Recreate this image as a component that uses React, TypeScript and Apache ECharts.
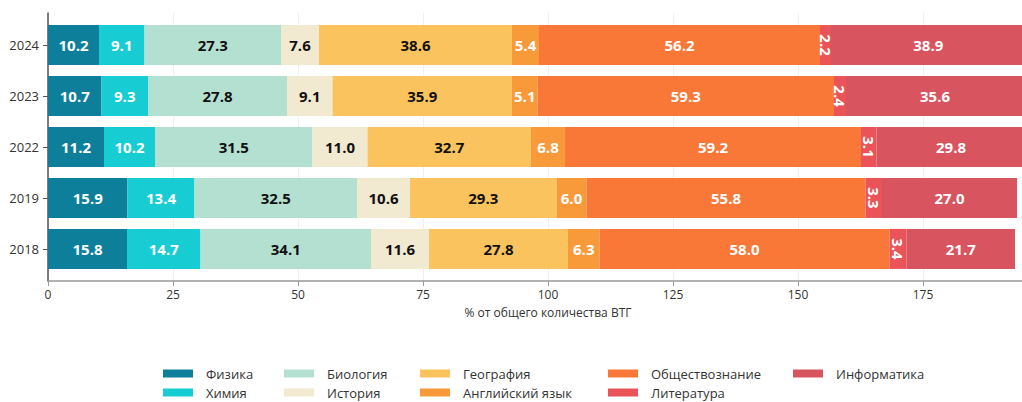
import React, { useEffect, useRef } from "react";
import * as echarts from "echarts";

const categories = ["2018", "2019", "2022", "2023", "2024"];
const subjects = [
  "Физика",
  "Химия",
  "Биология",
  "История",
  "География",
  "Английский язык",
  "Обществознание",
  "Литература",
  "Информатика",
];
const physics = [15.8, 15.9, 11.2, 10.7, 10.2];
const chemistry = [14.7, 13.4, 10.2, 9.3, 9.1];
const biology = [34.1, 32.5, 31.5, 27.8, 27.3];
const history = [11.6, 10.6, 11.0, 9.1, 7.6];
const geography = [27.8, 29.3, 32.7, 35.9, 38.6];
const english = [6.3, 6.0, 6.8, 5.1, 5.4];
const social = [58.0, 55.8, 59.2, 59.3, 56.2];
const literature = [3.4, 3.3, 3.1, 2.4, 2.2];
const informatics = [21.7, 27.0, 29.8, 35.6, 38.9];
const xTicks = [0, 25, 50, 75, 100, 125, 150, 175, 200];

const seriesValues = [physics, chemistry, biology, history, geography, english, social, literature, informatics];
const colors = ["#0e7f9b", "#17cdd3", "#b4e0d2", "#f2e9d1", "#fbc35e", "#f99a3a", "#f97737", "#ea5459", "#d8545e"];
const labelColors = ["#fff", "#fff", "#111", "#111", "#111", "#fff", "#fff", "#fff", "#fff"];

const legendCols = [163, 284, 420, 608, 793];
const legendRows = [367, 386];

export default function App() {
  const ref = useRef<HTMLDivElement>(null);
  useEffect(() => {
    if (!ref.current) return;
    const chart = echarts.init(ref.current, null, { renderer: "svg" });
    const font = "'Open Sans', 'Noto Sans', sans-serif";
    const legends = subjects.map((name, i) => ({
      data: [name],
      left: legendCols[Math.floor(i / 2)],
      top: legendRows[i % 2],
      padding: 0,
      itemWidth: 30,
      itemHeight: 8,
      icon: "rect",
      selectedMode: false,
      formatter: (n: string) => `{g|}{t|${n}}`,
      textStyle: {
        fontFamily: font,
        fontSize: 13,
        color: "#333",
        rich: {
          g: { width: 8 },
          t: { fontFamily: font, fontSize: 13, color: "#333" },
        },
      },
    }));
    chart.setOption({
      animation: false,
      backgroundColor: "#fff",
      textStyle: { fontFamily: font },
      legend: legends,
      grid: [
        { left: 48, width: 1000, top: 13, bottom: 121, containLabel: false, outerBoundsMode: "none" },
        { left: 48, width: 1000, top: 19.6, bottom: 127.6, containLabel: false, outerBoundsMode: "none" },
      ],
      xAxis: [
        {
          type: "value",
          gridIndex: 0,
          min: xTicks[0],
          max: xTicks[xTicks.length - 1],
          interval: 25,
          name: "% от общего количества ВТГ",
          nameLocation: "middle",
          nameGap: 25,
          nameTextStyle: { fontSize: 12, color: "#333", fontFamily: font },
          axisLine: { show: true, lineStyle: { color: "#999", width: 1.5 } },
          axisTick: { show: true, length: 5, lineStyle: { color: "#999" } },
          axisLabel: { fontSize: 12, color: "#333", margin: 7, fontFamily: font, showMaxLabel: false },
          splitLine: { show: true, lineStyle: { color: "#f0f0f0" } },
        },
        {
          type: "value",
          gridIndex: 1,
          min: xTicks[0],
          max: xTicks[xTicks.length - 1],
          show: false,
          splitLine: { show: false },
        },
      ],
      yAxis: [
        {
          type: "value",
          gridIndex: 0,
          min: 0,
          max: 1,
          axisLine: { show: true, lineStyle: { color: "#555", width: 1.5 } },
          axisTick: { show: false },
          axisLabel: { show: false },
          splitLine: { show: false },
        },
        {
          type: "category",
          gridIndex: 1,
          data: categories,
          axisLine: { show: false },
          axisTick: { show: true, alignWithLabel: true, length: 5, lineStyle: { color: "#555" } },
          axisLabel: { fontSize: 13, color: "#333", margin: 9, fontFamily: font },
        },
      ],
      series: subjects.map((name, i) => ({
        name,
        type: "bar",
        stack: "total",
        xAxisIndex: 1,
        yAxisIndex: 1,
        barWidth: 40,
        itemStyle: { color: colors[i] },
        label: {
          show: true,
          position: "inside",
          rotate: i === 7 ? -90 : 0,
          color: labelColors[i],
          fontSize: 15,
          fontWeight: "bold",
          fontFamily: font,
          formatter: (p: any) => Number(p.value).toFixed(1),
        },
        data: seriesValues[i],
      })),
    });
    return () => chart.dispose();
  }, []);
  return (
    <div
      ref={ref}
      style={{ position: "absolute", left: 0, top: 0, width: 1022, height: 402 }}
    />
  );
}
